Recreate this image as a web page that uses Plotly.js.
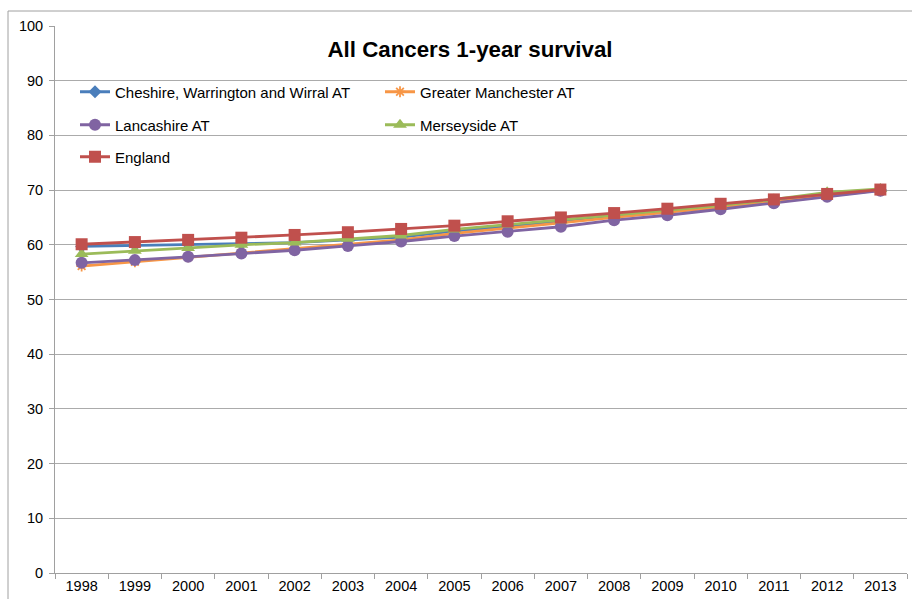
<!DOCTYPE html>
<html>
<head>
<meta charset="utf-8">
<script src="https://cdn.plot.ly/plotly-3.0.1.min.js"></script>
<style>html,body{margin:0;padding:0;background:#fff;}#chart{width:912px;height:599px;}</style>
</head>
<body>
<div id="chart"></div>
<script>
const years = ['1998','1999','2000','2001','2002','2003','2004','2005','2006','2007','2008','2009','2010','2011','2012','2013'];
const cheshire = [59.7, 59.9, 60.1, 60.2, 60.4, 60.9, 61.4, 62.5, 63.4, 64.2, 65.2, 66.1, 67.0, 68.0, 69.0, 70.0];
const greaterManchester = [56.1, 56.9, 57.8, 58.5, 59.3, 60.1, 60.9, 62.1, 63.0, 64.0, 65.0, 65.9, 66.8, 67.8, 68.9, 70.0];
const lancashire = [56.7, 57.2, 57.8, 58.4, 59.0, 59.8, 60.6, 61.6, 62.4, 63.3, 64.5, 65.4, 66.5, 67.6, 68.8, 69.9];
const merseyside = [58.3, 58.9, 59.4, 60.0, 60.4, 61.1, 61.7, 62.8, 63.7, 64.5, 65.4, 66.3, 67.2, 68.3, 69.6, 70.2];
const england = [60.1, 60.5, 60.9, 61.3, 61.8, 62.3, 62.9, 63.5, 64.3, 65.0, 65.8, 66.6, 67.5, 68.3, 69.3, 70.1];
const yTicks = [0,10,20,30,40,50,60,70,80,90,100];

const F = 'Liberation Sans, Arial, sans-serif';
function tr(name, y, color, symbol, size, legend, extra) {
  return Object.assign({
    type: 'scatter', mode: 'lines+markers', name: name, x: years, y: y,
    line: {color: color, width: 2.8},
    marker: {color: color, symbol: symbol, size: size, line: {width: 0, color: color}},
    legend: legend
  }, extra || {});
}
const data = [
  tr('Cheshire, Warrington and Wirral AT', cheshire, '#4A7EBB', 'diamond', 10, 'legend'),
  tr('Greater Manchester AT', greaterManchester, '#F79646', 'asterisk-open', 9, 'legend', {marker:{color:'#F79646', symbol:'asterisk-open', size:9, line:{width:1.8, color:'#F79646'}}}),
  tr('Lancashire AT', lancashire, '#8064A2', 'circle', 12, 'legend2'),
  tr('Merseyside AT', merseyside, '#9BBB59', 'triangle-up', 12, 'legend2'),
  tr('England', england, '#C0504D', 'square', 12, 'legend3')
];
const PL = 55, PR = 907, PT = 26, PB = 573;
function leg(ypx) {
  return {
    orientation: 'h', xref: 'paper', yref: 'paper',
    x: (75 - PL)/(PR - PL), xanchor: 'left', y: (PB - ypx)/(PB - PT), yanchor: 'middle',
    entrywidth: 260, entrywidthmode: 'pixels',
    font: {family: F, size: 15, color: '#000'},
    bgcolor: 'rgba(0,0,0,0)', itemwidth: 30, traceorder: 'normal'
  };
}
const layout = {
  width: 912, height: 599,
  paper_bgcolor: '#fff', plot_bgcolor: '#fff',
  margin: {l: PL, r: 912 - PR, t: PT, b: 599 - PB, autoexpand: false},
  font: {family: F, size: 14.5, color: '#000'},
  title: {text: 'All Cancers 1-year survival', font: {family: F, size: 22.3, weight: 'bold', color: '#000'},
          xref: 'container', x: 470/912, xanchor: 'center', yref: 'container', y: 1 - 49/599, yanchor: 'middle'},
  showlegend: true,
  legend: leg(92), legend2: leg(125), legend3: leg(157),
  xaxis: {
    type: 'category', tickson: 'boundaries', ticks: 'outside', ticklen: 5, tickcolor: '#A0A0A0',
    showline: true, linecolor: '#A0A0A0', linewidth: 1, showgrid: false, automargin: false,
    tickfont: {family: F, size: 14.5, color: '#000'}, range: [-0.5, 15.5], fixedrange: true
  },
  yaxis: {
    range: [0, 100], tickvals: yTicks, ticks: 'outside', ticklen: 5, tickcolor: '#A0A0A0', automargin: false,
    showline: true, linecolor: '#A0A0A0', linewidth: 1, showgrid: true, gridcolor: '#ABABAB', gridwidth: 1,
    zeroline: false, tickfont: {family: F, size: 14.5, color: '#000'}, ticklabelstandoff: 3
  },
  shapes: [
    {type: 'rect', xref: 'paper', yref: 'paper', x0: -(PL - 8)/(PR - PL), x1: 1.2, y0: -0.2, y1: 1 + (PT - 11)/(PB - PT),
     line: {color: '#A0A0A0', width: 1}, fillcolor: 'rgba(0,0,0,0)', layer: 'below'}
  ]
};
Plotly.newPlot('chart', data, layout, {displayModeBar: false, staticPlot: true});
</script>
</body>
</html>
